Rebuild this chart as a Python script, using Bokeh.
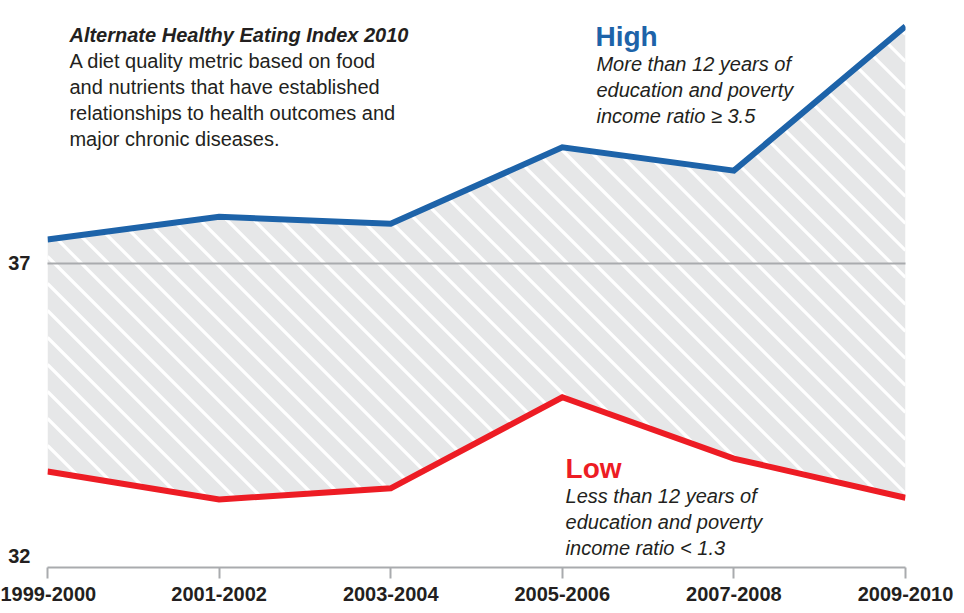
import numpy as np
from bokeh.plotting import figure
from bokeh.models import Range1d, FixedTicker, Label
from bokeh.embed import file_html
from bokeh.resources import INLINE

# ---- data ----
categories = ["1999-2000", "2001-2002", "2003-2004", "2005-2006", "2007-2008", "2009-2010"]
high = [37.41, 37.80, 37.68, 38.99, 38.59, 41.06]
low = [33.44, 32.96, 33.15, 34.71, 33.66, 32.99]
y_ticks = [32, 37]
grid_value = 37

title_text = "Alternate Healthy Eating Index 2010"
body_lines = ["A diet quality metric based on food",
              "and nutrients that have established",
              "relationships to health outcomes and",
              "major chronic diseases."]
high_label = "High"
high_lines = ["More than 12 years of", "education and poverty", "income ratio \u2265 3.5"]
low_label = "Low"
low_lines = ["Less than 12 years of", "education and poverty", "income ratio < 1.3"]

BLUE = "#1d63a9"
RED = "#ed1c24"
TXT = "#231f20"
GRAY = "#a9abae"
BAND = "#e6e7e8"
FONT = "Liberation Sans"

W, H = 964, 613
BL, BR, BT, BB = 47, 59, 0, 46
Y0, Y1 = 31.795, 41.503

xs = list(range(len(categories)))
X0, X1 = 0, len(categories) - 1

p = figure(width=W, height=H, output_backend="svg", toolbar_location=None,
           x_range=Range1d(X0, X1), y_range=Range1d(Y0, Y1),
           min_border_left=BL, min_border_right=BR, min_border_top=BT, min_border_bottom=BB)
p.outline_line_color = None
p.background_fill_color = "white"
p.border_fill_color = "white"

# gray band between the two series
p.varea(x=xs, y1=low, y2=high, fill_color=BAND)

# 45-degree white stripes clipped to the band
px_x = (W - BL - BR) / (X1 - X0)      # pixels per x unit
px_y = (H - BT - BB) / (Y1 - Y0)      # pixels per y unit
slope = px_x / px_y                   # data slope of a 45deg screen line
step = 27 / px_y                      # 27 px spacing
xg = np.linspace(X0, X1, 6001)
hi = np.interp(xg, xs, high)
lo = np.interp(xg, xs, low)
sx, sy = [], []
for c in np.arange(min(low) - step, max(high) + slope * (X1 - X0) + step, step):
    yl = c - slope * (xg - X0)
    mask = (yl >= lo) & (yl <= hi)
    if not mask.any():
        continue
    d = np.diff(mask.astype(int))
    starts = list(np.where(d == 1)[0] + 1)
    ends = list(np.where(d == -1)[0])
    if mask[0]:
        starts = [0] + starts
    if mask[-1]:
        ends = ends + [len(mask) - 1]
    for s, e in zip(starts, ends):
        sx.append([float(xg[s]), float(xg[e])])
        sy.append([float(yl[s]), float(yl[e])])
p.multi_line(sx, sy, line_color="white", line_width=3.2)

p.line(xs, high, line_color=BLUE, line_width=6, line_join="miter")
p.line(xs, low, line_color=RED, line_width=6, line_join="miter")

# grid
p.xgrid.visible = False
p.ygrid.ticker = FixedTicker(ticks=[grid_value])
p.ygrid.grid_line_color = GRAY
p.ygrid.grid_line_width = 2
p.ygrid.level = "overlay"

# axes
p.xaxis.ticker = FixedTicker(ticks=xs)
p.xaxis.major_label_overrides = {i: c for i, c in enumerate(categories)}
p.xaxis.axis_line_color = GRAY
p.xaxis.axis_line_width = 2
p.xaxis.major_tick_line_color = GRAY
p.xaxis.major_tick_line_width = 2
p.xaxis.major_tick_out = 11
p.xaxis.major_tick_in = 0
p.xaxis.minor_tick_line_color = None
p.xaxis.major_label_standoff = 8
p.xaxis.major_label_text_font = FONT
p.xaxis.major_label_text_font_style = "bold"
p.xaxis.major_label_text_font_size = "20px"
p.xaxis.major_label_text_color = TXT

p.yaxis.ticker = FixedTicker(ticks=y_ticks)
p.yaxis.axis_line_color = None
p.yaxis.major_tick_line_color = None
p.yaxis.minor_tick_line_color = None
p.yaxis.major_tick_out = 0
p.yaxis.major_tick_in = 0
p.yaxis.major_label_standoff = 17
p.yaxis.major_label_text_font = FONT
p.yaxis.major_label_text_font_style = "bold"
p.yaxis.major_label_text_font_size = "20px"
p.yaxis.major_label_text_color = TXT


def add_text(x, y, text, size="20px", style="normal", color=TXT):
    p.add_layout(Label(x=x, y=y, text=text, text_font=FONT, text_font_size=size,
                       text_font_style=style, text_color=color,
                       text_align="left", text_baseline="alphabetic"))


# positions in data units
add_text(0.128, 40.904, title_text, style="bold italic")
for i, line in enumerate(body_lines):
    add_text(0.128, 40.459 - i * 0.445, line)

add_text(3.193, 40.887, high_label, size="28px", style="bold", color=BLUE)
for i, line in enumerate(high_lines):
    add_text(3.199, 40.408 - i * 0.445, line, style="italic")

add_text(3.019, 33.49, low_label, size="28px", style="bold", color=RED)
for i, line in enumerate(low_lines):
    add_text(3.019, 33.027 - i * 0.445, line, style="italic")

open("out.html", "w").write(file_html(p, INLINE))
